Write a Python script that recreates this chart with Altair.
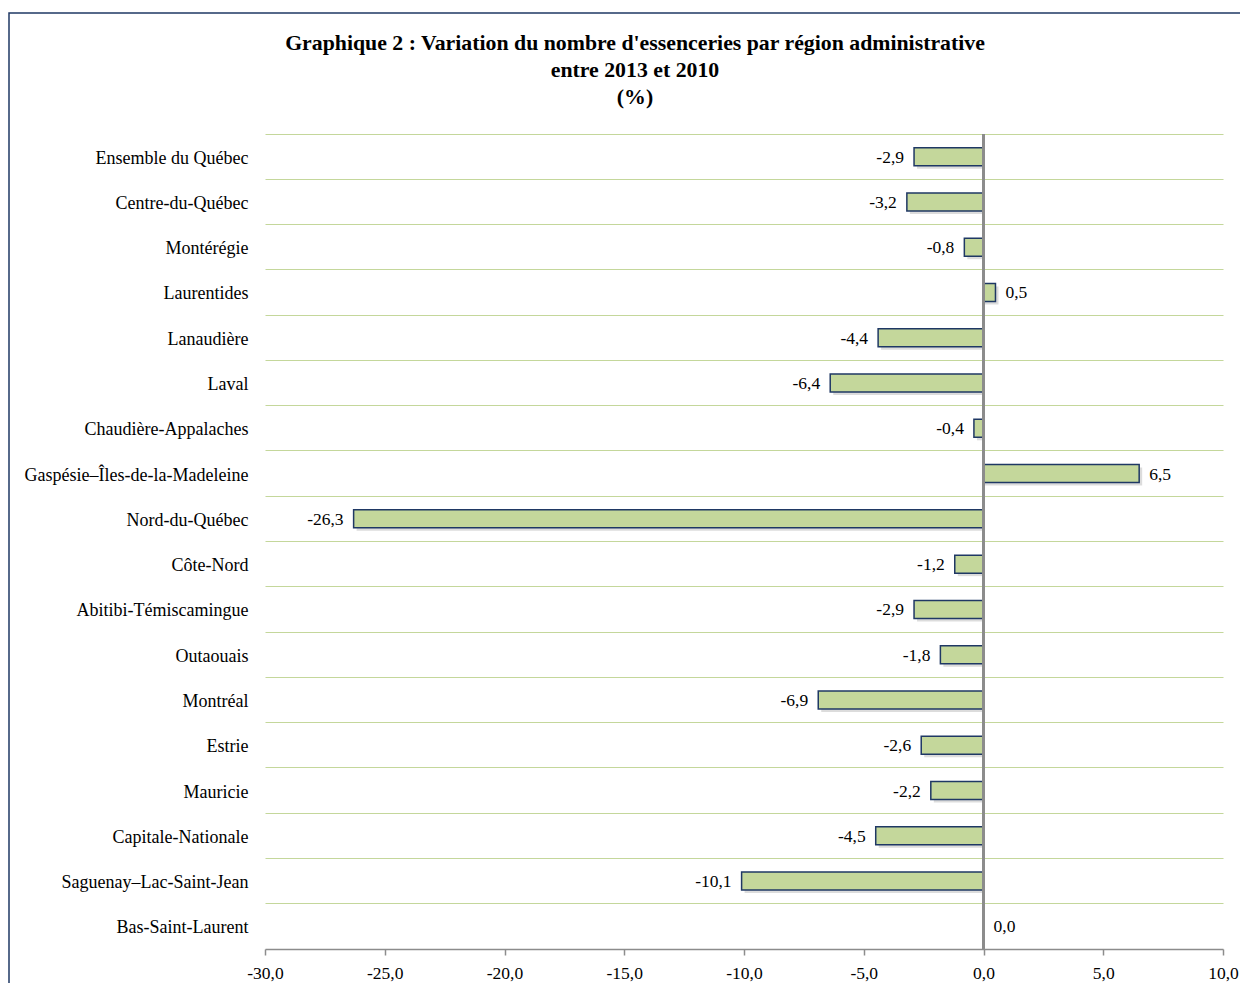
import altair as alt
import pandas as pd

regions = [
    "Ensemble du Québec", "Centre-du-Québec", "Montérégie", "Laurentides",
    "Lanaudière", "Laval", "Chaudière-Appalaches", "Gaspésie–Îles-de-la-Madeleine",
    "Nord-du-Québec", "Côte-Nord", "Abitibi-Témiscamingue", "Outaouais",
    "Montréal", "Estrie", "Mauricie", "Capitale-Nationale",
    "Saguenay–Lac-Saint-Jean", "Bas-Saint-Laurent",
]
values = [-2.9, -3.2, -0.8, 0.5, -4.4, -6.4, -0.4, 6.5, -26.3, -1.2,
          -2.9, -1.8, -6.9, -2.6, -2.2, -4.5, -10.1, 0.0]
x_ticks = [-30, -25, -20, -15, -10, -5, 0, 5, 10]
title_lines = [
    "Graphique 2 : Variation du nombre d'essenceries par région administrative",
    "entre 2013 et 2010",
    "(%)",
]

df = pd.DataFrame({
    "region": regions,
    "value": values,
    "label": [f"{v:.1f}".replace(".", ",") for v in values],
    "zero": [0.0] * len(values),
})

FONT = "Liberation Serif"
FS = 17.5
W, H = 958, 815

y_axis = alt.Axis(domain=False, ticks=False, grid=True, bandPosition=0,
                  gridColor="#C4D79B", gridWidth=1.2,
                  labelFont=FONT, labelFontSize=18, labelColor="#000000",
                  labelPadding=17, labelLimit=0, labelOffset=2)
x_axis = alt.Axis(values=x_ticks, grid=False, domainColor="#8C8C8C",
                  domainWidth=1.5, tickColor="#8C8C8C", tickWidth=1.5,
                  tickSize=6, labelFont=FONT, labelFontSize=FS,
                  labelColor="#000000", labelPadding=9, labelFlush=False,
                  labelExpr="(datum.value < 0 ? '-' : '') + replace(format(abs(datum.value), '.1f'), '.', ',')")
x_scale = alt.Scale(domain=[-30, 10], nice=False, zero=False)
y_scale = alt.Scale(paddingInner=0, paddingOuter=0)


def xq(field):
    return alt.X(f"{field}:Q", title=None, scale=x_scale, axis=x_axis)


y_enc = alt.Y("region:N", sort=regions, title=None, scale=y_scale, axis=y_axis)

base = alt.Chart(df)
nonzero = base.transform_filter("datum.value != 0")

shadow = nonzero.mark_bar(color="#9A9A9A", opacity=0.35, xOffset=3, yOffset=3, size=18).encode(
    x=xq("value"), x2="zero:Q", y=y_enc)
bars = nonzero.mark_bar(color="#C4D79B", stroke="#1F3864", strokeWidth=1.5, size=18).encode(
    x=xq("value"), x2="zero:Q", y=y_enc)

zero = base.mark_rule(color="#8C8C8C", strokeWidth=1.5).encode(x=xq("zero"))

neg_labels = base.transform_filter("datum.value < 0").mark_text(
    align="right", baseline="middle", dx=-10, dy=1, font=FONT, fontSize=FS, color="#000000"
).encode(x=xq("value"), y=y_enc, text="label:N")
pos_labels = base.transform_filter("datum.value >= 0").mark_text(
    align="left", baseline="middle", dx=10, dy=1, font=FONT, fontSize=FS, color="#000000"
).encode(x=xq("value"), y=y_enc, text="label:N")

one = pd.DataFrame({"a": [1]})
frame = alt.Chart(one).mark_rect(
    filled=False, stroke="#1F3864", strokeWidth=1.5
).encode(x=alt.value(-256), x2=alt.value(1100), y=alt.value(-121), y2=alt.value(1000))

title = alt.Chart(one).mark_text(
    text=title_lines, font=FONT, fontSize=21.8, fontWeight="bold", color="#000000",
    align="center", baseline="alphabetic", lineHeight=27
).encode(x=alt.value(370), y=alt.value(-84))

chart = alt.layer(shadow, bars, zero, neg_labels, pos_labels, frame, title).properties(
    width=W, height=H,
    padding={"left": 257, "top": 126, "right": 17, "bottom": 34},
    autosize=alt.AutoSizeParams(type="none"),
).configure(font=FONT).configure_text(font=FONT).configure_axis(
    labelFont=FONT
).configure_view(stroke=None)

chart.save("out.html", embed_options={"renderer": "svg", "actions": False})
